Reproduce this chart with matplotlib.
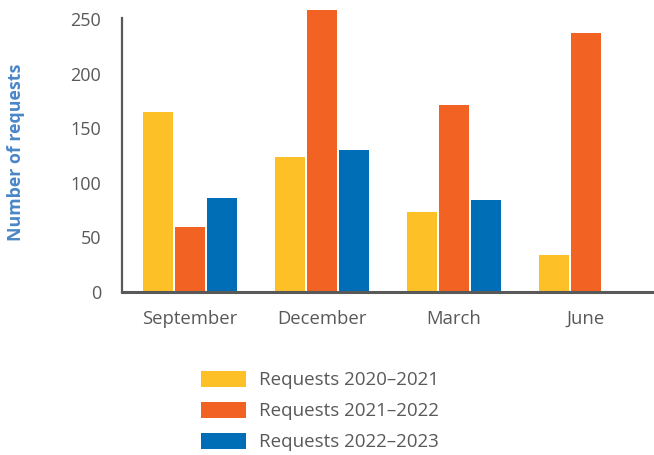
import numpy as np
import matplotlib.pyplot as plt
from matplotlib.patches import Patch

months = ["September", "December", "March", "June"]
req_2020_21 = [165, 124, 73, 34]
req_2021_22 = [60, 258, 171, 237]
req_2022_23 = [86, 130, 84, None]
series_labels = ["Requests 2020\u20132021", "Requests 2021\u20132022", "Requests 2022\u20132023"]
colors = ["#FDC026", "#F26323", "#006EB6"]

plt.rcParams['font.family'] = ['Open Sans', 'DejaVu Sans']
grey = "#595959"

fig = plt.figure(figsize=(6.54, 4.55), dpi=100)
ax = fig.add_axes([0.1865, 0.358, 0.810, 0.629])

x = np.arange(len(months))
width = 0.227
step = 0.2424
for i, (vals, col) in enumerate(zip([req_2020_21, req_2021_22, req_2022_23], colors)):
    xs = [xi + (i - 1) * step for xi, v in zip(x, vals) if v is not None]
    hs = [v for v in vals if v is not None]
    ax.bar(xs, hs, width=width, color=col, zorder=2)

ax.set_xlim(-0.515, 3.5)
ax.set_ylim(0, 262)
ax.set_yticks([0, 50, 100, 150, 200, 250])
ax.set_xticks(x)
ax.set_xticklabels(months)

for s in ["top", "right"]:
    ax.spines[s].set_visible(False)
ax.spines["left"].set_bounds(0, 251)
ax.spines["left"].set_color(grey)
ax.spines["left"].set_linewidth(1.6)
ax.spines["bottom"].set_color(grey)
ax.spines["bottom"].set_linewidth(2.2)
ax.spines["bottom"].set_zorder(3)

ax.tick_params(axis="y", length=0, pad=15, labelsize=13, labelcolor=grey)
ax.tick_params(axis="x", length=0, pad=13, labelsize=13.3, labelcolor=grey)

ax.set_ylabel("Number of requests", color="#4A86C8", fontweight="bold",
              fontsize=12.8)
ax.yaxis.set_label_coords(-0.183, 0.49)

handles = [Patch(facecolor=c, edgecolor="none") for c in colors]
fig.legend(handles, series_labels, loc="upper left", bbox_to_anchor=(0.293, 0.205),
           frameon=False, fontsize=13.5, labelcolor=grey, handlelength=2.4,
           handleheight=0.9, handletextpad=0.7, labelspacing=0.68, borderpad=0)

fig.savefig("out.png", dpi=100)
